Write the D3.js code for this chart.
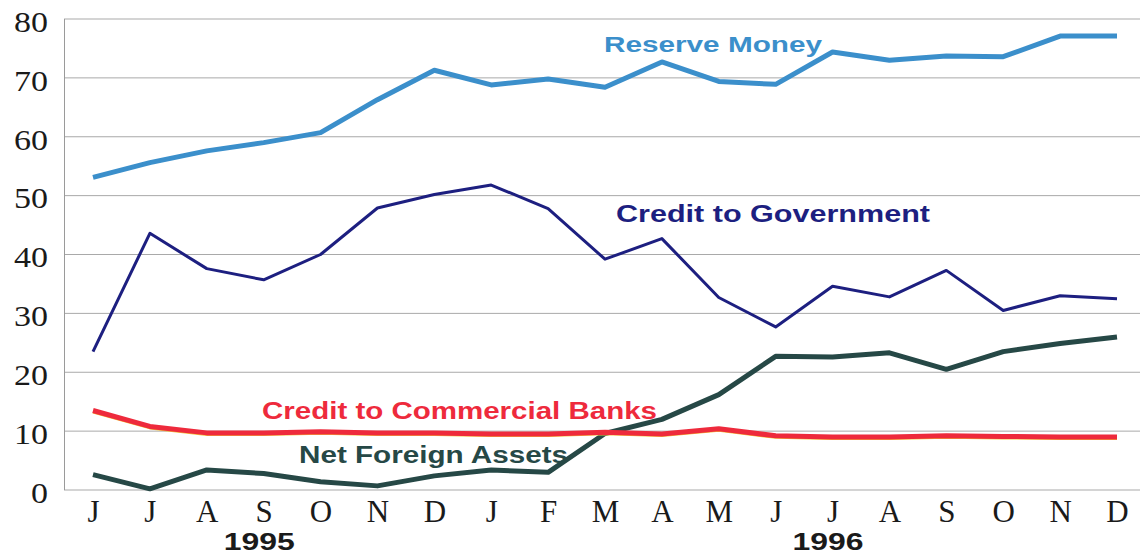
<!DOCTYPE html>
<html>
<head>
<meta charset="utf-8">
<script src="https://cdn.jsdelivr.net/npm/d3@7"></script>
<style>
  html, body { margin: 0; padding: 0; background: #fff; }
  svg { display: block; }
</style>
</head>
<body>
<svg id="chart" width="1140" height="558"></svg>
<script>
// Monthly series, June 1995 – December 1996
const months = ["J","J","A","S","O","N","D","J","F","M","A","M","J","J","A","S","O","N","D"];
const yTicks = [0, 10, 20, 30, 40, 50, 60, 70, 80];

const reserveMoney = [53.1, 55.6, 57.6, 59.0, 60.7, 66.3, 71.3, 68.8, 69.8, 68.4, 72.7, 69.4, 68.9, 74.4, 73.0, 73.7, 73.6, 77.1, 77.1];
const creditGovernment = [23.5, 43.6, 37.6, 35.7, 40.0, 47.9, 50.2, 51.8, 47.8, 39.2, 42.7, 32.7, 27.7, 34.6, 32.8, 37.3, 30.5, 33.0, 32.5];
const creditBanks = [13.5, 10.8, 9.7, 9.7, 9.9, 9.7, 9.7, 9.5, 9.5, 9.8, 9.5, 10.4, 9.2, 9.0, 9.0, 9.2, 9.1, 9.0, 9.0];
const netForeignAssets = [2.6, 0.2, 3.4, 2.8, 1.4, 0.7, 2.4, 3.4, 3.0, 9.6, 12.0, 16.2, 22.7, 22.6, 23.3, 20.5, 23.5, 24.9, 26.0];

const years = [{ label: "1995", at: 3 }, { label: "1996", at: 13 }];

const svg = d3.select("#chart");

const x = d3.scalePoint().domain(d3.range(months.length)).range([93, 1117]);
const y = d3.scaleLinear().domain([0, 80]).range([490, 19]);

// Horizontal gridlines
svg.append("g")
  .selectAll("line")
  .data(yTicks)
  .join("line")
  .attr("x1", 64).attr("x2", 1140)
  .attr("y1", d => y(d)).attr("y2", d => y(d))
  .attr("stroke", "#a9a9a9").attr("stroke-width", 1);

// Vertical axis line
svg.append("line")
  .attr("x1", 64.5).attr("x2", 64.5)
  .attr("y1", y(80)).attr("y2", y(0))
  .attr("stroke", "#9a9a9a").attr("stroke-width", 1);

// Y axis labels (wide serif digits)
const yAxis = d3.axisLeft(y).tickValues(yTicks).tickSize(0).tickPadding(0);
svg.append("g")
  .attr("transform", "translate(48,3)")
  .call(yAxis)
  .call(g => g.select(".domain").remove())
  .selectAll("text")
  .attr("font-family", "'Liberation Serif', 'DejaVu Serif', serif")
  .attr("font-size", 29)
  .attr("fill", "#1a1a1a")
  .attr("textLength", d => String(d).length * 17)
  .attr("lengthAdjust", "spacingAndGlyphs");

// Month labels
const xAxis = d3.axisBottom(x).tickFormat(i => months[i]).tickSize(0).tickPadding(0);
svg.append("g")
  .attr("transform", "translate(0,500)")
  .call(xAxis)
  .call(g => g.select(".domain").remove())
  .selectAll("text")
  .attr("font-family", "'Liberation Serif', 'DejaVu Serif', serif")
  .attr("font-size", 31)
  .attr("fill", "#1a1a1a");

// Year labels
svg.append("g")
  .selectAll("text")
  .data(years)
  .join("text")
  .attr("x", d => x(d.at) - 40)
  .attr("y", 550)
  .attr("textLength", 71)
  .attr("lengthAdjust", "spacingAndGlyphs")
  .attr("font-family", "'Liberation Sans', Arial, sans-serif")
  .attr("font-weight", "bold")
  .attr("font-size", 24)
  .attr("fill", "#1a1a1a")
  .text(d => d.label);

const line = d3.line().x((d, i) => x(i)).y(d => y(d));

const series = [
  { values: netForeignAssets, color: "#264846", width: 5 },
  { values: creditBanks, color: "#ee2a3c", width: 5, under: "#f3c23a" },
  { values: creditGovernment, color: "#1d1f80", width: 3 },
  { values: reserveMoney, color: "#3b8fcb", width: 5 }
];

series.forEach(s => {
  if (s.under) {
    svg.append("path")
      .attr("d", line(s.values))
      .attr("transform", "translate(0,1.5)")
      .attr("fill", "none")
      .attr("stroke", s.under)
      .attr("stroke-width", 3)
      .attr("stroke-linejoin", "round");
  }
  svg.append("path")
    .attr("d", line(s.values))
    .attr("fill", "none")
    .attr("stroke", s.color)
    .attr("stroke-width", s.width)
    .attr("stroke-linejoin", "round");
});

// Series labels
const labels = [
  { text: "Reserve Money", x: 604, y: 52, len: 218, size: 22, color: "#3b8fcb" },
  { text: "Credit to Government", x: 616, y: 222, len: 314, size: 23, color: "#1d1f80" },
  { text: "Credit to Commercial Banks", x: 262, y: 419, len: 395, size: 23, color: "#ee2a3c" },
  { text: "Net Foreign Assets", x: 299, y: 463, len: 269, size: 23, color: "#264846" }
];

svg.append("g")
  .selectAll("text")
  .data(labels)
  .join("text")
  .attr("x", d => d.x)
  .attr("y", d => d.y)
  .attr("textLength", d => d.len)
  .attr("lengthAdjust", "spacingAndGlyphs")
  .attr("font-family", "'Liberation Sans', Arial, sans-serif")
  .attr("font-weight", "bold")
  .attr("font-size", d => d.size)
  .attr("fill", d => d.color)
  .text(d => d.text);
</script>
</body>
</html>
